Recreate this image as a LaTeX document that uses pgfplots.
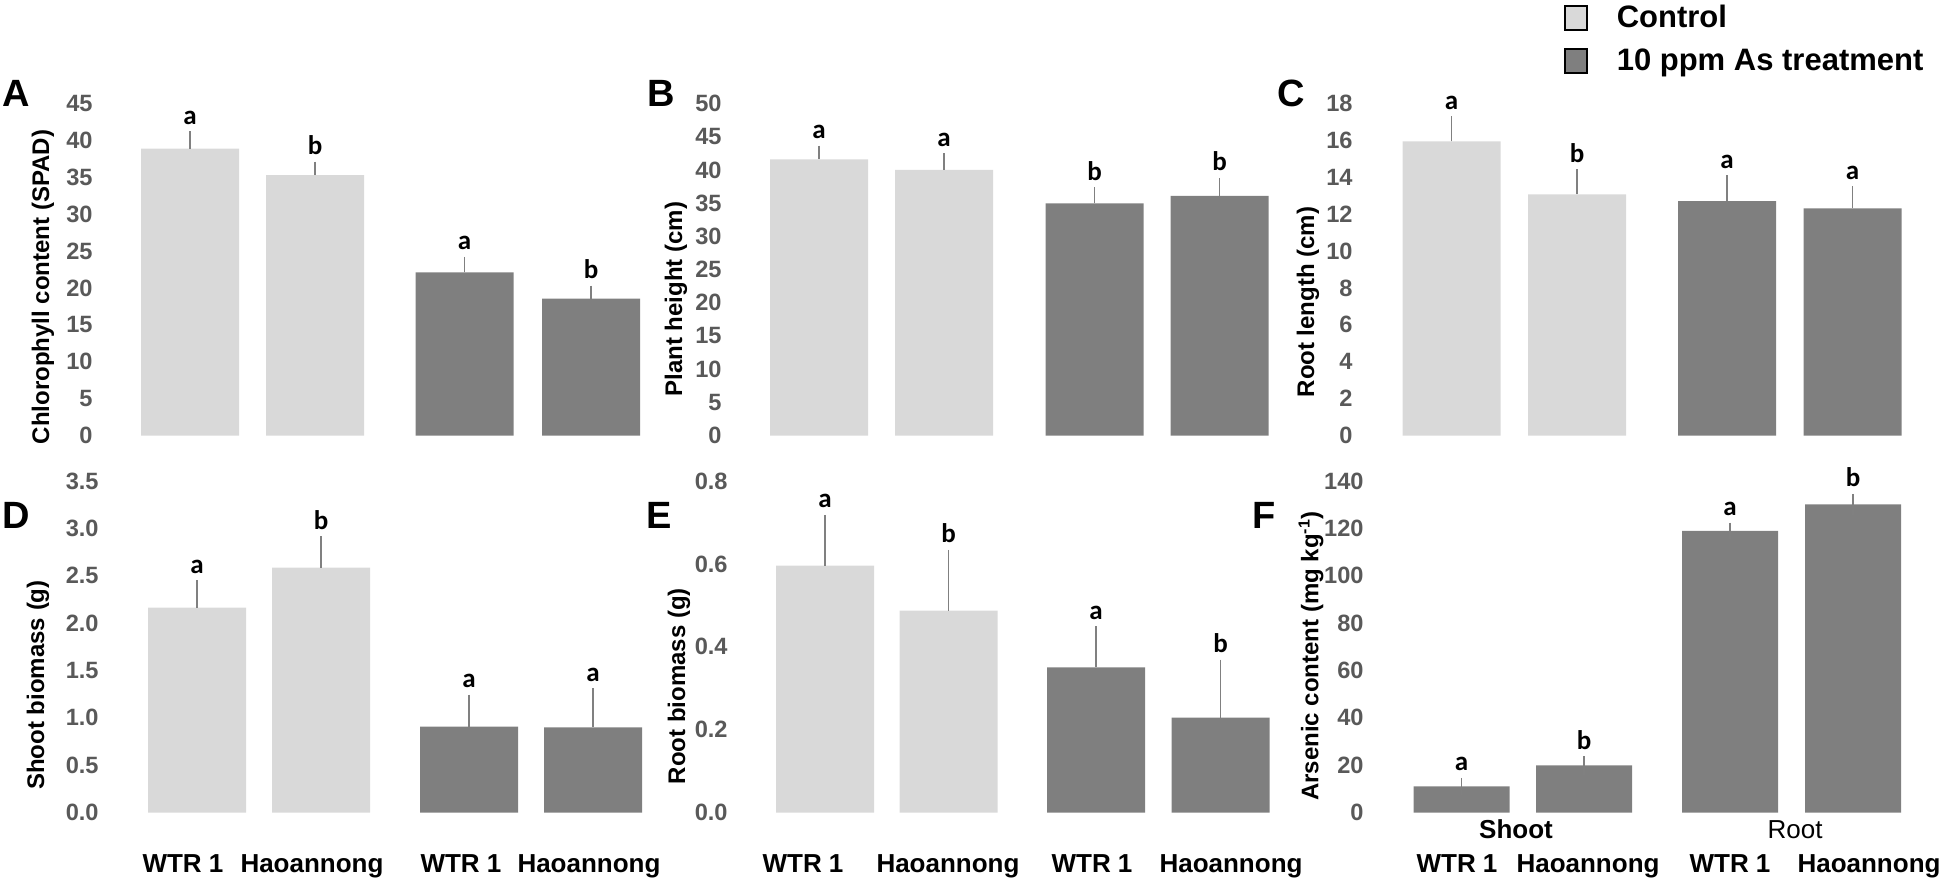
\documentclass[border=0pt]{standalone}
\usepackage{fontspec}
\setmainfont{Liberation Sans}
\newfontfamily\calibri{Carlito}
\usepackage{pgfplots}
\pgfplotsset{compat=1.18}

\definecolor{ctrl}{RGB}{217,217,217}
\definecolor{trt}{RGB}{127,127,127}
\definecolor{errc}{RGB}{128,128,128}
\definecolor{tickc}{RGB}{89,89,89}

\newcommand\tickfont{\fontsize{11.8}{13}\selectfont\bfseries}
\newcommand\labfont{\fontsize{12}{14}\selectfont\bfseries}
\newcommand\catfont{\fontsize{13}{15}\selectfont\bfseries}
\newcommand\letfont{\fontsize{19}{21}\selectfont\bfseries}

\pgfplotsset{
  panel/.style={
    scale only axis, clip=false, ymin=0,
    axis line style={draw=none},
    major tick length=0pt, tick style={draw=none},
    yticklabel style={font=\tickfont, color=tickc, anchor=east, inner sep=0pt, xshift=-2.5pt},
    xticklabel style={font=\catfont, anchor=base, inner sep=0pt, yshift=-30pt},
    /pgf/number format/assume math mode=true,
    xtick=\empty,
  },
  bars/.style={ybar, bar shift=0pt, bar width=98, draw=none, forget plot,
    error bars/y dir=plus, error bars/y explicit,
    error bars/error bar style={errc, line width=0.7pt},
    error bars/error mark options={errc, mark size=2.5pt, line width=0.7pt}},
}
\tikzset{sig/.style={font=\calibri\fontsize{13.5}{15}\selectfont\bfseries, anchor=base, yshift=6pt}}

\begin{document}
\begin{tikzpicture}
\useasboundingbox (0pt,0pt) rectangle (973pt,-441pt);

% A: chlorophyll
\begin{axis}[panel, at={(49pt,-217.75pt)}, anchor=south west,
  width=281pt, height=166pt, xmin=98, xmax=660, ymax=45, ytick={0,5,...,45}]
\addplot[bars, fill=ctrl] coordinates {(190,38.9) +- (0,1.67) (315,35.3) +- (0,1.13)};
\addplot[bars, fill=trt] coordinates {(464.5,22.1) +- (0,1.45) (591,18.55) +- (0,1.08)};
\node[sig] at (axis cs:190,40.57) {a};
\node[sig] at (axis cs:315,36.43) {b};
\node[sig] at (axis cs:464.5,23.55) {a};
\node[sig] at (axis cs:591,19.63) {b};
\end{axis}

% B: plant height
\begin{axis}[panel, at={(363.5pt,-217.75pt)}, anchor=south west,
  width=281.5pt, height=166pt, xmin=727, xmax=1290, ymax=50, ytick={0,5,...,50}]
\addplot[bars, fill=ctrl] coordinates {(819,41.6) +- (0,1.3) (944,40.0) +- (0,1.75)};
\addplot[bars, fill=trt] coordinates {(1094.5,34.95) +- (0,1.7) (1219.5,36.1) +- (0,1.95)};
\node[sig] at (axis cs:819,42.9) {a};
\node[sig] at (axis cs:944,41.75) {a};
\node[sig] at (axis cs:1094.5,36.65) {b};
\node[sig] at (axis cs:1219.5,38.05) {b};
\end{axis}

% C: root length, carries the legend
\begin{axis}[panel, at={(679pt,-217.75pt)}, anchor=south west,
  width=281pt, height=166pt, xmin=1358, xmax=1920, ymax=18, ytick={0,2,...,18},
  legend style={at={(0.3665,1.309)}, anchor=north west, draw=none, fill=none,
    inner sep=0pt, font=\fontsize{15.5}{17}\selectfont\bfseries, row sep=5pt,
    cells={anchor=west},
    /tikz/every odd column/.append style={column sep=12.5pt}}]
\addplot[bars, fill=ctrl] coordinates {(1451.5,15.94) +- (0,1.1) (1577,13.07) +- (0,1.1)};
\addplot[bars, fill=trt] coordinates {(1727,12.71) +- (0,1.14) (1852.5,12.31) +- (0,0.94)};
\node[sig] at (axis cs:1451.5,17.04) {a};
\node[sig] at (axis cs:1577,14.17) {b};
\node[sig] at (axis cs:1727,13.85) {a};
\node[sig] at (axis cs:1852.5,13.25) {a};
\addlegendimage{legend image code/.code={\draw[fill=ctrl, draw=black, line width=0.7pt] (0pt,-6pt) rectangle (11pt,6pt);}}
\addlegendentry{Control}
\addlegendimage{legend image code/.code={\draw[fill=trt, draw=black, line width=0.7pt] (0pt,-6pt) rectangle (11pt,6pt);}}
\addlegendentry{10 ppm As treatment}
\end{axis}

% D: shoot biomass
\begin{axis}[panel, at={(52pt,-406.25pt)}, anchor=south west,
  width=278pt, height=165.75pt, xmin=104, xmax=660, ymax=3.5, ytick={0,0.5,...,3.5},
  yticklabel style={/pgf/number format/.cd, fixed, fixed zerofill, precision=1},
  xtick={183,312,461,589}, xticklabels={WTR 1,Haoannong,WTR 1,Haoannong}]
\addplot[bars, fill=ctrl] coordinates {(197,2.163) +- (0,0.236) (321,2.585) +- (0,0.28)};
\addplot[bars, fill=trt] coordinates {(469,0.907) +- (0,0.285) (593,0.90) +- (0,0.36)};
\node[sig] at (axis cs:197,2.399) {a};
\node[sig] at (axis cs:321,2.865) {b};
\node[sig] at (axis cs:469,1.192) {a};
\node[sig] at (axis cs:593,1.26) {a};
\end{axis}

% E: root biomass
\begin{axis}[panel, at={(366.5pt,-406.25pt)}, anchor=south west,
  width=278.5pt, height=165.75pt, xmin=733, xmax=1290, ymax=0.8, ytick={0,0.2,0.4,0.6,0.8},
  yticklabel style={/pgf/number format/.cd, fixed, fixed zerofill, precision=1},
  xtick={803,948,1092,1231}, xticklabels={WTR 1,Haoannong,WTR 1,Haoannong}]
\addplot[bars, fill=ctrl] coordinates {(825,0.596) +- (0,0.11) (948.5,0.487) +- (0,0.135)};
\addplot[bars, fill=trt] coordinates {(1096,0.350) +- (0,0.087) (1220.5,0.229) +- (0,0.128)};
\node[sig] at (axis cs:825,0.706) {a};
\node[sig] at (axis cs:948.5,0.622) {b};
\node[sig] at (axis cs:1096,0.437) {a};
\node[sig] at (axis cs:1220.5,0.357) {b};
\end{axis}

% F: arsenic content
\begin{axis}[panel, at={(684.5pt,-406.25pt)}, anchor=south west,
  width=275.5pt, height=165.75pt, xmin=1369, xmax=1920, ymax=140, ytick={0,20,...,140},
  xtick={1457,1588,1730,1869}, xticklabels={WTR 1,Haoannong,WTR 1,Haoannong}]
\addplot[bars, fill=trt, bar width=96, error bars/y dir=both] coordinates {
  (1461.5,11.0) +- (0,1.5) (1584,19.9) +- (0,1.8)
  (1730,118.9) +- (0,1.4) (1853,130.1) +- (0,2.4)};
\node[sig] at (axis cs:1461.5,12.5) {a};
\node[sig] at (axis cs:1584,21.7) {b};
\node[sig] at (axis cs:1730,120.3) {a};
\node[sig] at (axis cs:1853,132.5) {b};
\node[font=\catfont, anchor=base, yshift=-12.75pt] at (axis cs:1516,0) {Shoot};
\node[font=\fontsize{13}{15}\selectfont, anchor=base, yshift=-12.75pt] at (axis cs:1795,0) {Root};
\end{axis}

% panel letters
\node[font=\letfont, anchor=base west, inner sep=0pt] at (1pt,-53.5pt) {A};
\node[font=\letfont, anchor=base west, inner sep=0pt] at (323.5pt,-53.5pt) {B};
\node[font=\letfont, anchor=base west, inner sep=0pt] at (638.5pt,-53.5pt) {C};
\node[font=\letfont, anchor=base west, inner sep=0pt] at (1pt,-264pt) {D};
\node[font=\letfont, anchor=base west, inner sep=0pt] at (323pt,-264pt) {E};
\node[font=\letfont, anchor=base west, inner sep=0pt] at (626pt,-264pt) {F};

% axis titles
\node[font=\labfont, rotate=90] at (21.5pt,-143.5pt) {Chlorophyll content (SPAD)};
\node[font=\labfont, rotate=90] at (338pt,-149.5pt) {Plant height (cm)};
\node[font=\labfont, rotate=90] at (654pt,-151pt) {Root length (cm)};
\node[font=\labfont, rotate=90] at (19pt,-342.5pt) {Shoot biomass (g)};
\node[font=\labfont, rotate=90] at (339.5pt,-343pt) {Root biomass (g)};
\node[font=\labfont, rotate=90] at (655.5pt,-328pt) {Arsenic content (mg kg\textsuperscript{-1})};
\end{tikzpicture}
\end{document}
